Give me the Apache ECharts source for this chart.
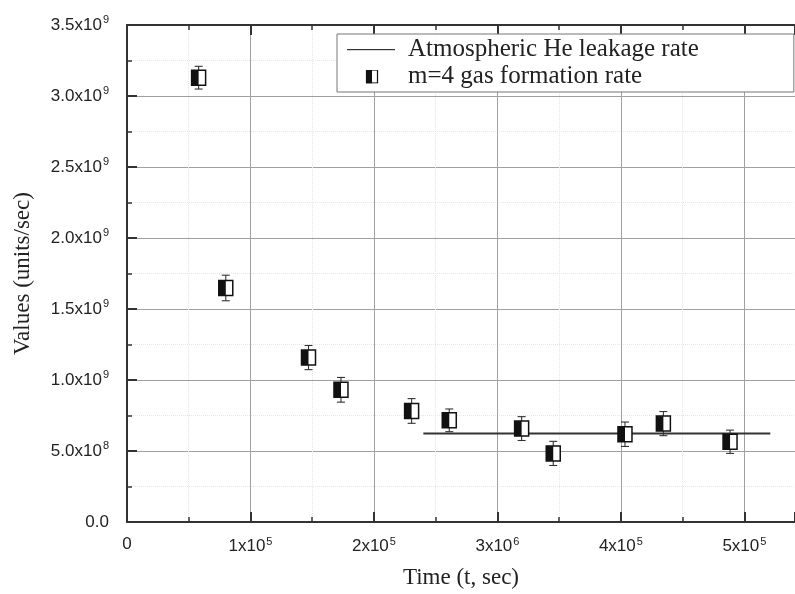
<!DOCTYPE html>
<html>
<head>
<meta charset="utf-8">
<script src="https://cdn.jsdelivr.net/npm/echarts@6/dist/echarts.min.js"></script>
<style>
  html, body { margin: 0; padding: 0; background: #fff; }
  #chart { width: 795px; height: 594px; }
</style>
</head>
<body>
<div id="chart"></div>
<script>
// m=4 gas formation rate: time (s), value (units/s), error (units/s)
const times = [0.58e5, 0.80e5, 1.47e5, 1.733e5, 2.305e5, 2.61e5, 3.196e5, 3.452e5, 4.033e5, 4.344e5, 4.884e5];
const rates = [3.129e9, 1.648e9, 1.158e9, 0.931e9, 0.782e9, 0.716e9, 0.658e9, 0.483e9, 0.618e9, 0.693e9, 0.565e9];
const errors = [0.08e9, 0.09e9, 0.085e9, 0.087e9, 0.087e9, 0.08e9, 0.084e9, 0.085e9, 0.086e9, 0.085e9, 0.082e9];

// atmospheric He leakage rate (flat line)
const leakTimes = [2.40e5, 5.21e5];
const leakRates = [0.623e9, 0.623e9];

// tick labels: [mantissa, exponent]
const xTickLabels = [["0", ""], ["1x10", "5"], ["2x10", "5"], ["3x10", "6"], ["4x10", "5"], ["5x10", "5"]];
const yTickLabels = [["0.0", ""], ["5.0x10", "8"], ["1.0x10", "9"], ["1.5x10", "9"], ["2.0x10", "9"], ["2.5x10", "9"], ["3.0x10", "9"], ["3.5x10", "9"]];

const seriesNames = ["Atmospheric He leakage rate", "m=4 gas formation rate"];

const chart = echarts.init(document.getElementById("chart"));

function tickText(list, v, step) {
  const k = v / step;
  if (Math.abs(k - Math.round(k)) > 1e-6) return "";
  const t = list[Math.round(k)];
  if (!t) return "";
  return t[1] ? t[0] + "{s|" + t[1] + "}" : t[0];
}

const labelRich = {
  s: { fontSize: 11, verticalAlign: "top", padding: [0, 0, 10, 1], color: "#222", fontFamily: "Liberation Sans" },
};

function svgIcon(body) {
  return (
    "image://data:image/svg+xml;utf8," +
    encodeURIComponent('<svg xmlns="http://www.w3.org/2000/svg" width="56" height="14" viewBox="0 0 56 14">' + body + "</svg>")
  );
}
const lineIcon = svgIcon('<rect x="0" y="6.5" width="48" height="1.2" fill="#333"/>');
const halfSquareIcon = svgIcon(
  '<rect x="19.5" y="0.5" width="11" height="13" fill="#fff" stroke="#111" stroke-width="1.2"/>' +
    '<rect x="19" y="0" width="6" height="14" fill="#111"/>'
);

const markerData = times.map((t, i) => [t, rates[i], errors[i]]);

const gridLineColor = "#a0a0a0";

const option = {
  backgroundColor: "#fff",
  animation: false,
  grid: { left: 127, top: 25, right: 0, bottom: 68 },
  legend: {
    orient: "vertical",
    left: 337,
    top: 34,
    padding: [3, 95, 3, 10],
    itemWidth: 56,
    itemHeight: 14,
    itemGap: 2,
    backgroundColor: "#fff",
    borderColor: "#777",
    borderWidth: 1,
    textStyle: { fontFamily: "Liberation Serif", fontSize: 25, color: "#222" },
    data: [
      { name: seriesNames[0], icon: lineIcon },
      { name: seriesNames[1], icon: halfSquareIcon },
    ],
  },
  xAxis: [
    {
      type: "value",
      min: 0,
      max: 5.41e5,
      interval: 1e5,
      name: "Time (t, sec)",
      nameLocation: "middle",
      nameGap: 44,
      nameTextStyle: { fontFamily: "Liberation Serif", fontSize: 23, color: "#222" },
      axisLine: { show: true, onZero: false, lineStyle: { color: "#333", width: 2 } },
      axisTick: { show: true, inside: true, length: 10, lineStyle: { color: "#333", width: 2 } },
      minorTick: { show: true, splitNumber: 2, length: 5, lineStyle: { color: "#333", width: 1.5 } },
      splitLine: { show: true, lineStyle: { color: gridLineColor, width: 1 } },
      minorSplitLine: { show: true, lineStyle: { color: "#e6e6e6", width: 1, type: "dotted" } },
      axisLabel: {
        margin: 14,
        fontFamily: "Liberation Sans",
        fontSize: 17,
        color: "#222",
        showMaxLabel: false,
        formatter: (v) => tickText(xTickLabels, v, 1e5),
        rich: labelRich,
      },
    },
    {
      type: "value",
      position: "top",
      min: 0,
      max: 5.41e5,
      interval: 1e5,
      axisLine: { show: true, onZero: false, lineStyle: { color: "#333", width: 2 } },
      axisTick: { show: true, inside: true, length: 10, lineStyle: { color: "#333", width: 2 } },
      minorTick: { show: true, splitNumber: 2, length: 5, lineStyle: { color: "#333", width: 1.5 } },
      splitLine: { show: false },
      axisLabel: { show: false },
    },
  ],
  yAxis: {
    type: "value",
    min: 0,
    max: 3.5e9,
    interval: 0.5e9,
    name: "Values (units/sec)",
    nameLocation: "middle",
    nameGap: 93,
    nameTextStyle: { fontFamily: "Liberation Serif", fontSize: 23, color: "#222" },
    axisLine: { show: true, onZero: false, lineStyle: { color: "#333", width: 2 } },
    axisTick: { show: true, inside: true, length: 10, lineStyle: { color: "#333", width: 2 } },
    minorTick: { show: true, splitNumber: 2, length: 5, lineStyle: { color: "#333", width: 1.5 } },
    splitLine: { show: true, lineStyle: { color: gridLineColor, width: 1 } },
    minorSplitLine: { show: true, lineStyle: { color: "#e6e6e6", width: 1, type: "dotted" } },
    axisLabel: {
      margin: 18,
      fontFamily: "Liberation Sans",
      fontSize: 17,
      color: "#222",
      formatter: (v) => tickText(yTickLabels, v, 0.5e9),
      rich: labelRich,
    },
  },
  series: [
    {
      name: seriesNames[0],
      type: "line",
      symbol: "none",
      xAxisIndex: 0,
      lineStyle: { color: "#333", width: 2 },
      itemStyle: { color: "#333" },
      data: leakTimes.map((t, i) => [t, leakRates[i]]),
      z: 3,
    },
    {
      name: seriesNames[1],
      type: "custom",
      xAxisIndex: 0,
      itemStyle: { color: "#111" },
      encode: { x: 0, y: 1 },
      data: markerData,
      z: 4,
      renderItem(params, api) {
        const x = api.value(0);
        const y = api.value(1);
        const e = api.value(2);
        const c = api.coord([x, y]);
        const hi = api.coord([x, y + e]);
        const lo = api.coord([x, y - e]);
        const w = 14;
        const h = 15;
        const cap = 4;
        const stroke = { stroke: "#333", lineWidth: 1.1 };
        return {
          type: "group",
          children: [
            { type: "line", shape: { x1: c[0], y1: hi[1], x2: c[0], y2: lo[1] }, style: stroke },
            { type: "line", shape: { x1: c[0] - cap, y1: hi[1], x2: c[0] + cap, y2: hi[1] }, style: stroke },
            { type: "line", shape: { x1: c[0] - cap, y1: lo[1], x2: c[0] + cap, y2: lo[1] }, style: stroke },
            {
              type: "rect",
              shape: { x: c[0] - w / 2, y: c[1] - h / 2, width: w, height: h },
              style: { fill: "#fff", stroke: "#111", lineWidth: 1.5 },
            },
            {
              type: "rect",
              shape: { x: c[0] - w / 2, y: c[1] - h / 2, width: w / 2, height: h },
              style: { fill: "#111" },
            },
          ],
        };
      },
    },
  ],
};

chart.setOption(option);
</script>
</body>
</html>
